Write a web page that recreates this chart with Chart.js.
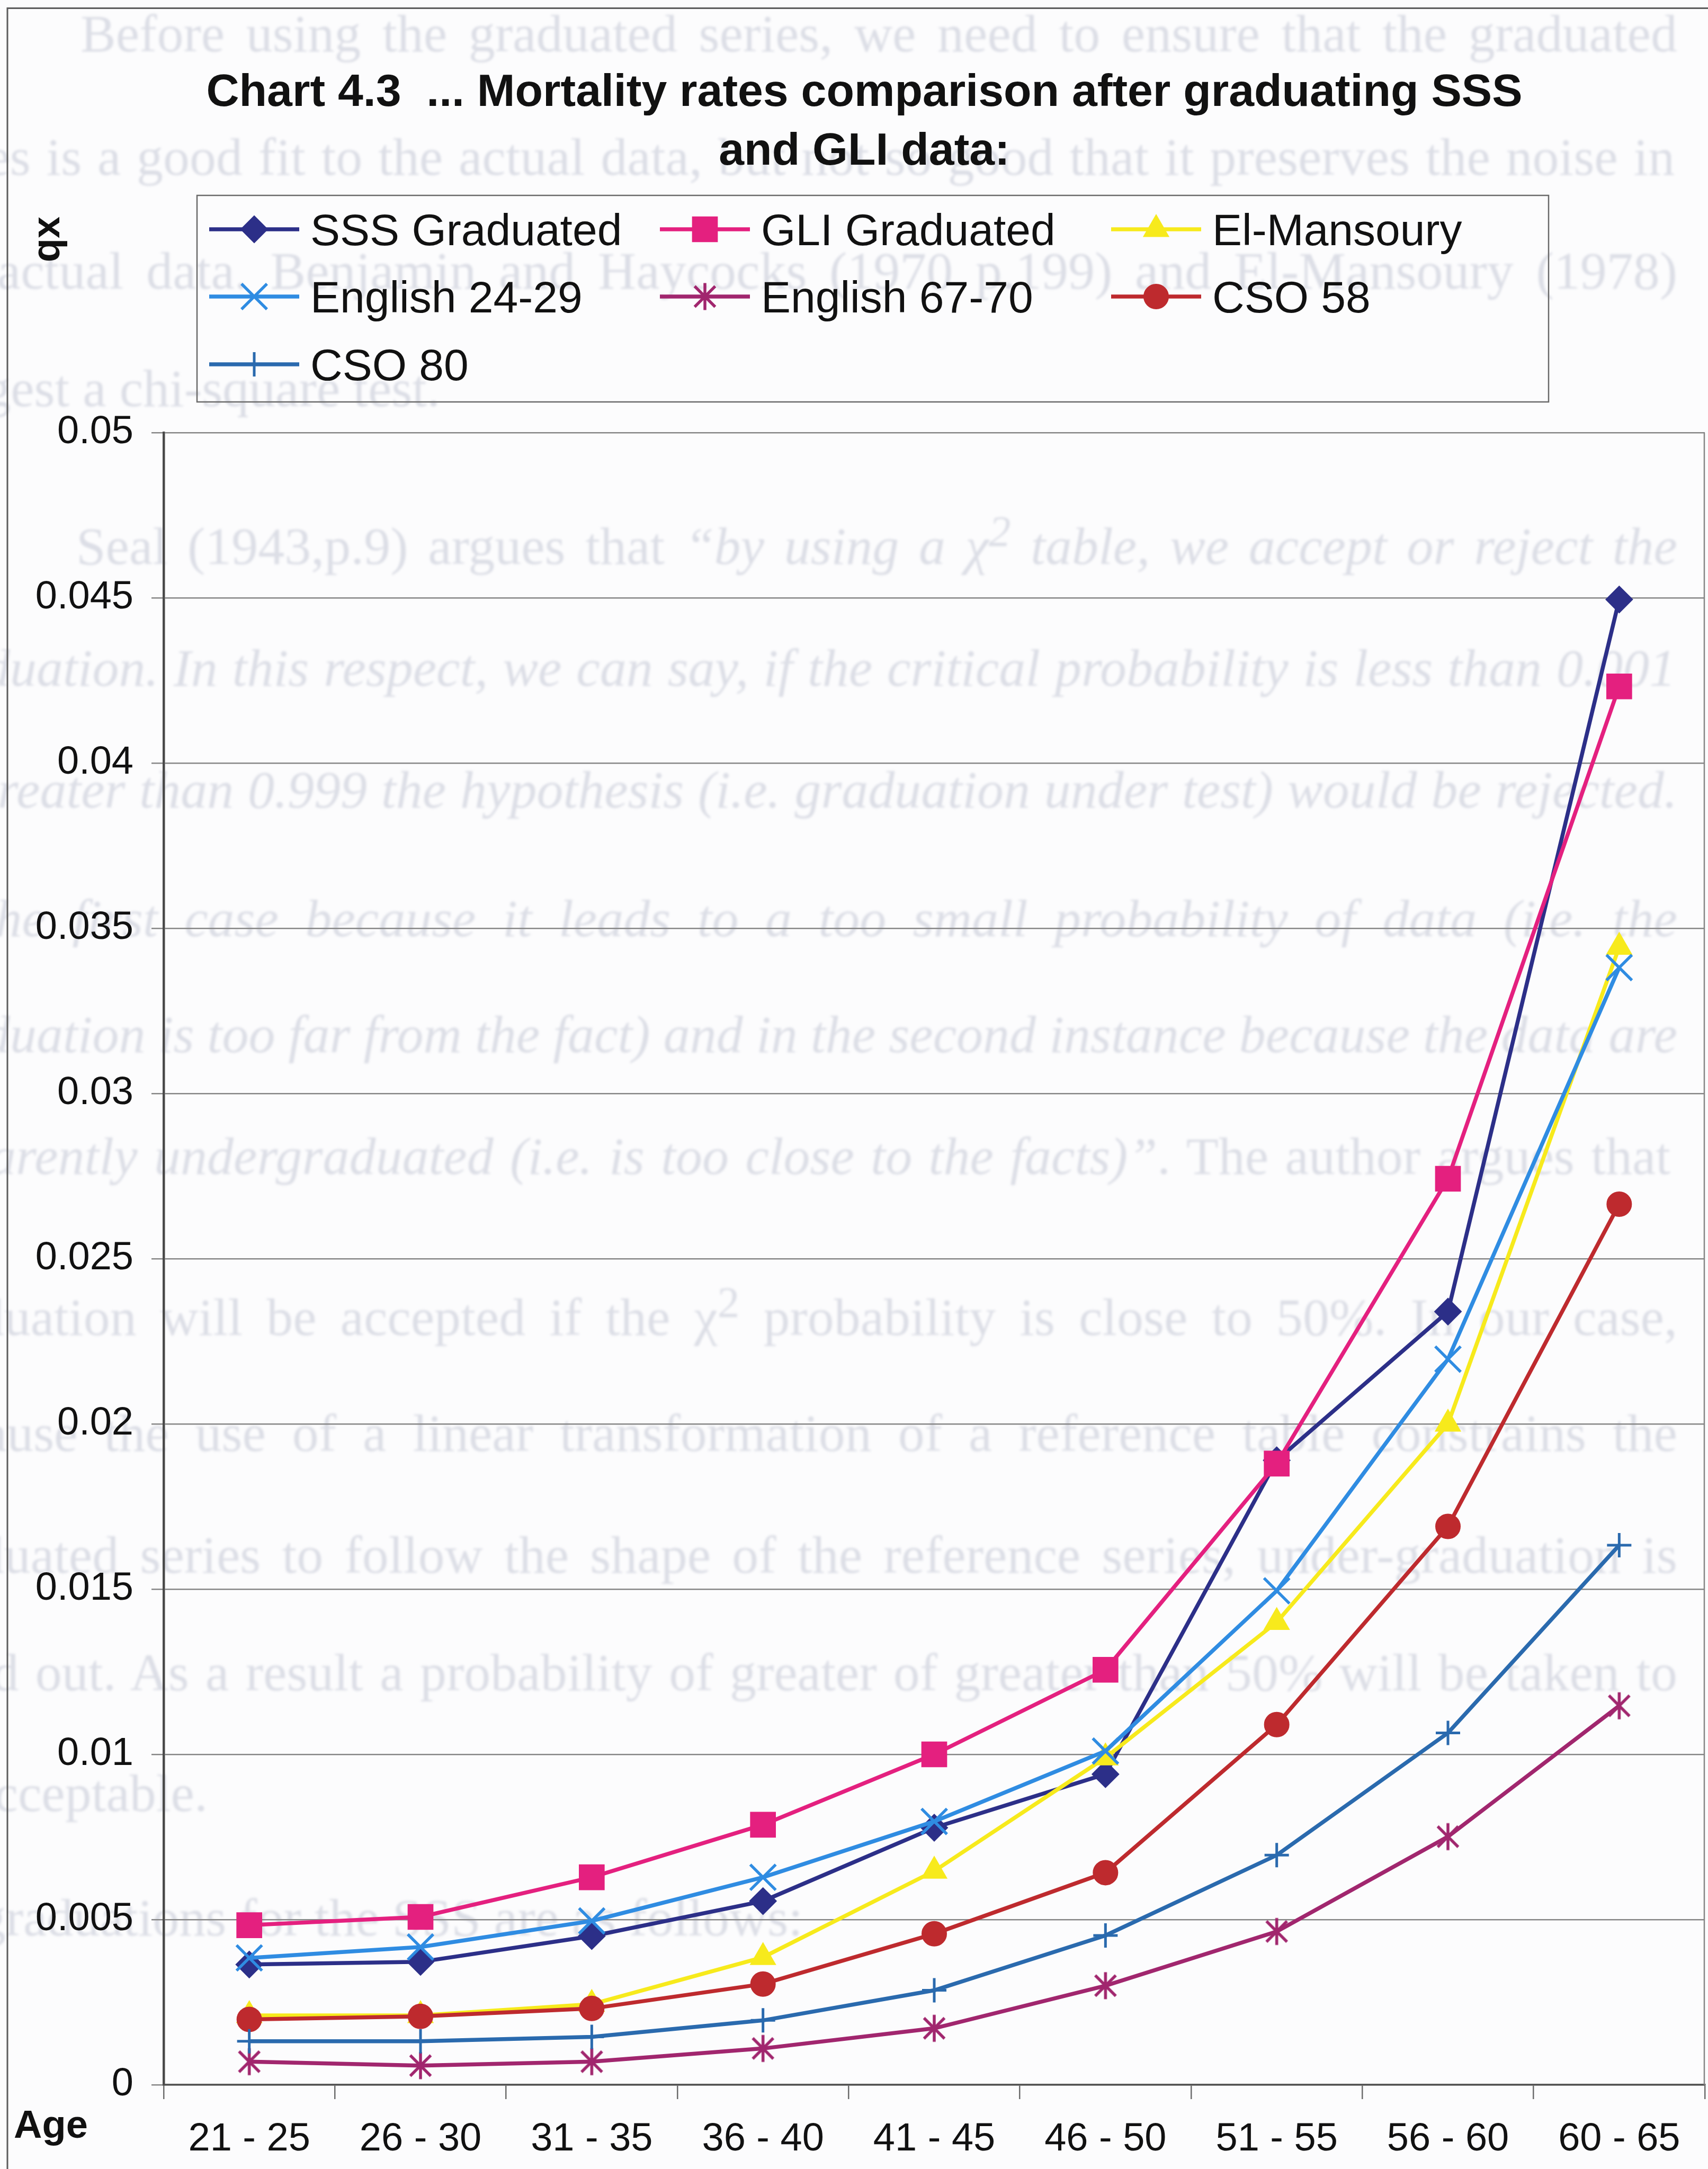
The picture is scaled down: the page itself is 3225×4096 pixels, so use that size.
<!DOCTYPE html>
<html>
<head>
<meta charset="utf-8">
<title>Chart 4.3 Mortality rates comparison</title>
<script src="https://cdn.jsdelivr.net/npm/chart.js@4.4.1/dist/chart.umd.min.js"></script>
<style>
  html, body { margin: 0; padding: 0; background: #fcfcfd; }
  #page { position: relative; width: 3225px; height: 4096px; overflow: hidden; }
  #backtext {
    position: absolute; left: 0; top: 0; width: 3225px; height: 4096px;
    color: rgba(120, 130, 160, 0.24);
    font-family: "Liberation Serif", "Times New Roman", serif;
    font-size: 100px;
    filter: blur(2.2px);
  }
  .bl { position: absolute; white-space: nowrap; line-height: 100px; }
  #wrap { position: absolute; left: 0; top: 0; width: 3225px; height: 4096px; }
</style>
</head>
<body>
<div id="page">
  <div id="backtext"></div>
  <div id="wrap"><canvas id="chart" width="3225" height="4096"></canvas></div>
</div>
<script>
// ---- data ----
const ageGroups = ["21 - 25", "26 - 30", "31 - 35", "36 - 40", "41 - 45", "46 - 50", "51 - 55", "56 - 60", "60 - 65"];

const sssGraduated   = [0.00364, 0.00372, 0.00450, 0.00556, 0.00778, 0.00940, 0.01890, 0.02340, 0.04495];
const gliGraduated   = [0.00483, 0.00508, 0.00628, 0.00787, 0.01000, 0.01256, 0.01880, 0.02742, 0.04232];
const elMansoury     = [0.00210, 0.00210, 0.00244, 0.00386, 0.00647, 0.00990, 0.01400, 0.02000, 0.03443];
const english2429    = [0.00384, 0.00417, 0.00496, 0.00628, 0.00797, 0.01010, 0.01495, 0.02196, 0.03381];
const english6770    = [0.00070, 0.00058, 0.00070, 0.00110, 0.00171, 0.00300, 0.00464, 0.00751, 0.01147];
const cso58          = [0.00198, 0.00207, 0.00231, 0.00305, 0.00457, 0.00642, 0.01090, 0.01690, 0.02665];
const cso80          = [0.00132, 0.00132, 0.00145, 0.00195, 0.00286, 0.00452, 0.00695, 0.01065, 0.01633];

const seriesNames  = ["SSS Graduated", "GLI Graduated", "El-Mansoury", "English 24-29", "English 67-70", "CSO 58", "CSO 80"];
const seriesValues = [sssGraduated, gliGraduated, elMansoury, english2429, english6770, cso58, cso80];

const titleLines = ["Chart 4.3  ... Mortality rates comparison after graduating SSS", "and GLI data:"];
const yAxisTitle = "qx";
const xAxisTitle = "Age";
const yMin = 0, yMax = 0.05, yStep = 0.005;

// ---- page text printed on the sheet underneath the chart ----
const pageLines = [
  { y: 75,   left: 152,  html: "Before using the graduated series, we need to ensure that the graduated", justify: true },
  { y: 308,  left: -170, html: "series is a good  fit to the actual data, but not so good that it preserves the noise in", justify: true },
  { y: 523,  left: -170, html: "the actual data. Benjamin and Haycocks (1970 p.199) and El-Mansoury (1978)", justify: true },
  { y: 745,  right: 831, html: "suggest a chi-square test." },
  { y: 1014, left: 144,  html: "Seal (1943,p.9) argues that <i>“by using a χ<sup>2</sup> table, we accept or reject the</i>", justify: true },
  { y: 1273, left: -170, html: "<i>graduation.  In this respect, we can say, if the critical probability is less than 0.001</i>", justify: true },
  { y: 1503, left: -170, html: "<i>or greater than 0.999 the hypothesis (i.e. graduation under test) would be rejected.</i>", justify: true },
  { y: 1746, left: -170, html: "<i>In the first case because it leads to a too small probability of data (i.e. the</i>", justify: true },
  { y: 1965, left: -170, html: "<i>graduation is too far from the fact) and in the second instance because the data are</i>", justify: true },
  { y: 2195, left: -170, html: "<i>apparently undergraduated (i.e.  is  too close to the facts)”</i>. The author argues that", justify: true },
  { y: 2470, left: -170, html: "graduation will be accepted if the χ<sup>2</sup> probability is close to 50%. In our case,", justify: true },
  { y: 2718, left: -170, html: "because the use of a linear transformation of a reference table constrains the", justify: true },
  { y: 2948, left: -170, html: "graduated series to follow the shape of the reference series, under-graduation is", justify: true },
  { y: 3170, left: -170, html: "ruled out. As a result a probability of greater of greater than 50% will be taken to", justify: true },
  { y: 3398, right: 392, html: "be acceptable." },
  { y: 3633, right: 1516, html: "The graduations for the SSS are as follows:" }
];
const textRight = 3167;

(function layPageText() {
  const host = document.getElementById('backtext');
  pageLines.forEach(function (ln) {
    const d = document.createElement('div');
    d.className = 'bl';
    d.innerHTML = ln.html;
    d.style.top = (ln.y - 61) + 'px';
    host.appendChild(d);
    const w = d.getBoundingClientRect().width;
    if (ln.justify) {
      d.style.left = ln.left + 'px';
      const spaces = (d.textContent.match(/ /g) || []).length;
      const target = textRight - ln.left;
      if (spaces > 0) d.style.wordSpacing = ((target - w) / spaces) + 'px';
    } else {
      d.style.left = (ln.right - w) + 'px';
    }
  });
})();

// ---- marker for the English 67-70 series: an X crossed by a vertical bar ----
function makeStar(color, size, lw) {
  const c = document.createElement('canvas');
  c.width = size; c.height = size;
  const g = c.getContext('2d');
  g.strokeStyle = color; g.lineWidth = lw; g.lineCap = 'butt';
  const m = size / 2, d = size * 0.36;
  g.beginPath();
  g.moveTo(m - d, m - d); g.lineTo(m + d, m + d);
  g.moveTo(m + d, m - d); g.lineTo(m - d, m + d);
  g.moveTo(m, m - size * 0.47); g.lineTo(m, m + size * 0.47);
  g.stroke();
  return c;
}

const seriesStyles = [
  { color: "#2C2F88", pointStyle: "rectRot",  radius: 25, pbw: 2 },
  { color: "#E4207F", pointStyle: "rect",     radius: 33, pbw: 2 },
  { color: "#F7EA1C", pointStyle: "triangle", radius: 27, pbw: 2 },
  { color: "#2F8CE2", pointStyle: "crossRot", radius: 34, pbw: 5.5 },
  { color: "#A1266E", pointStyle: null,       radius: 27, pbw: 5.5 },
  { color: "#BE2A2E", pointStyle: "circle",   radius: 23, pbw: 2 },
  { color: "#2A6AAE", pointStyle: "cross",    radius: 23, pbw: 5 }
];
seriesStyles[4].pointStyle = makeStar(seriesStyles[4].color, 54, 5.5);

const FONT = '"Liberation Sans", Arial, Helvetica, sans-serif';

const datasets = seriesNames.map(function (name, i) {
  const s = seriesStyles[i];
  return {
    label: name,
    data: seriesValues[i],
    borderColor: s.color,
    backgroundColor: s.color,
    borderWidth: 7.5,
    tension: 0,
    pointStyle: s.pointStyle,
    pointRadius: s.radius,
    pointHoverRadius: s.radius,
    pointBorderWidth: s.pbw,
    pointBackgroundColor: s.color,
    pointBorderColor: s.color,
    order: seriesNames.length - i
  };
});

// title, axis titles, legend box and frame
const decorations = {
  id: 'decorations',
  afterDraw(chart) {
    const ctx = chart.ctx;
    const a = chart.chartArea;
    ctx.save();

    // outer frame (left and top edges)
    ctx.strokeStyle = '#5c5c5c';
    ctx.lineWidth = 3;
    ctx.beginPath();
    ctx.moveTo(14, 4096); ctx.lineTo(14, 15.5); ctx.lineTo(3225, 15.5);
    ctx.stroke();

    // plot area right edge
    ctx.strokeStyle = '#858585';
    ctx.lineWidth = 2.5;
    ctx.beginPath();
    ctx.moveTo(a.right - 1, a.top); ctx.lineTo(a.right - 1, a.bottom);
    ctx.stroke();

    // chart title
    ctx.fillStyle = '#111';
    ctx.textAlign = 'center';
    ctx.textBaseline = 'alphabetic';
    ctx.font = 'bold 86px ' + FONT;
    titleLines.forEach(function (t, i) { ctx.fillText(t, 1632, 200 + i * 111); });

    // vertical axis title
    ctx.font = 'bold 74px ' + FONT;
    ctx.save();
    ctx.translate(92, 452);
    ctx.rotate(-Math.PI / 2);
    ctx.textAlign = 'center';
    ctx.textBaseline = 'middle';
    ctx.fillText(yAxisTitle, 0, 0);
    ctx.restore();

    // horizontal axis title
    ctx.textAlign = 'left';
    ctx.textBaseline = 'alphabetic';
    ctx.fillText(xAxisTitle, 26, 4037);

    // legend
    ctx.strokeStyle = '#6a6a6a';
    ctx.lineWidth = 2.5;
    ctx.strokeRect(372, 369, 2552, 390);

    const colX = [395, 1246, 2098];
    const rowY = [433, 560, 688];
    ctx.font = '84px ' + FONT;
    ctx.textBaseline = 'alphabetic';
    chart.data.datasets.forEach(function (ds, i) {
      const x0 = colX[i % 3], y0 = rowY[Math.floor(i / 3)];
      ctx.strokeStyle = ds.borderColor;
      ctx.lineWidth = ds.borderWidth;
      ctx.beginPath();
      ctx.moveTo(x0, y0); ctx.lineTo(x0 + 170, y0);
      ctx.stroke();
      ctx.fillStyle = ds.pointBackgroundColor;
      ctx.strokeStyle = ds.pointBorderColor;
      ctx.lineWidth = ds.pointBorderWidth;
      Chart.helpers.drawPoint(ctx, {
        pointStyle: ds.pointStyle, radius: ds.pointRadius, rotation: 0, borderWidth: ds.pointBorderWidth
      }, x0 + 85, y0);
      ctx.fillStyle = '#111';
      ctx.fillText(ds.label, x0 + 191, y0 + 30);
    });

    ctx.restore();
  }
};

new Chart(document.getElementById('chart'), {
  type: 'line',
  data: { labels: ageGroups, datasets: datasets },
  plugins: [decorations],
  options: {
    responsive: false,
    devicePixelRatio: 1,
    animation: false,
    events: [],
    layout: { autoPadding: false, padding: { top: 817, right: 6, left: 0, bottom: 0 } },
    plugins: {
      legend: { display: false },
      title: { display: false },
      tooltip: { enabled: false }
    },
    scales: {
      x: {
        type: 'category',
        offset: true,
        grid: {
          display: true, drawOnChartArea: false, drawTicks: true,
          tickLength: 27, color: '#6d6d6d', lineWidth: 2.5, offset: true
        },
        border: { display: true, color: '#555', width: 3.5 },
        ticks: {
          font: { family: FONT, size: 74 }, color: '#111',
          padding: 32, maxRotation: 0, minRotation: 0, autoSkip: false
        },
        afterFit(scale) {
          scale.height = 159;
          scale.paddingLeft = 0;
          scale.paddingRight = 0;
        }
      },
      y: {
        min: yMin, max: yMax,
        grid: { color: '#868686', lineWidth: 2.5, tickLength: 23, drawTicks: true },
        border: { display: true, color: '#4a4a4a', width: 4.5 },
        ticks: {
          stepSize: yStep,
          font: { family: FONT, size: 74 }, color: '#111', padding: 34,
          callback: function (v) { return String(Number(Number(v).toFixed(3))); }
        },
        afterFit(scale) {
          scale.width = 309;
          scale.paddingTop = 0;
          scale.paddingBottom = 0;
        }
      }
    }
  }
});
</script>
</body>
</html>
